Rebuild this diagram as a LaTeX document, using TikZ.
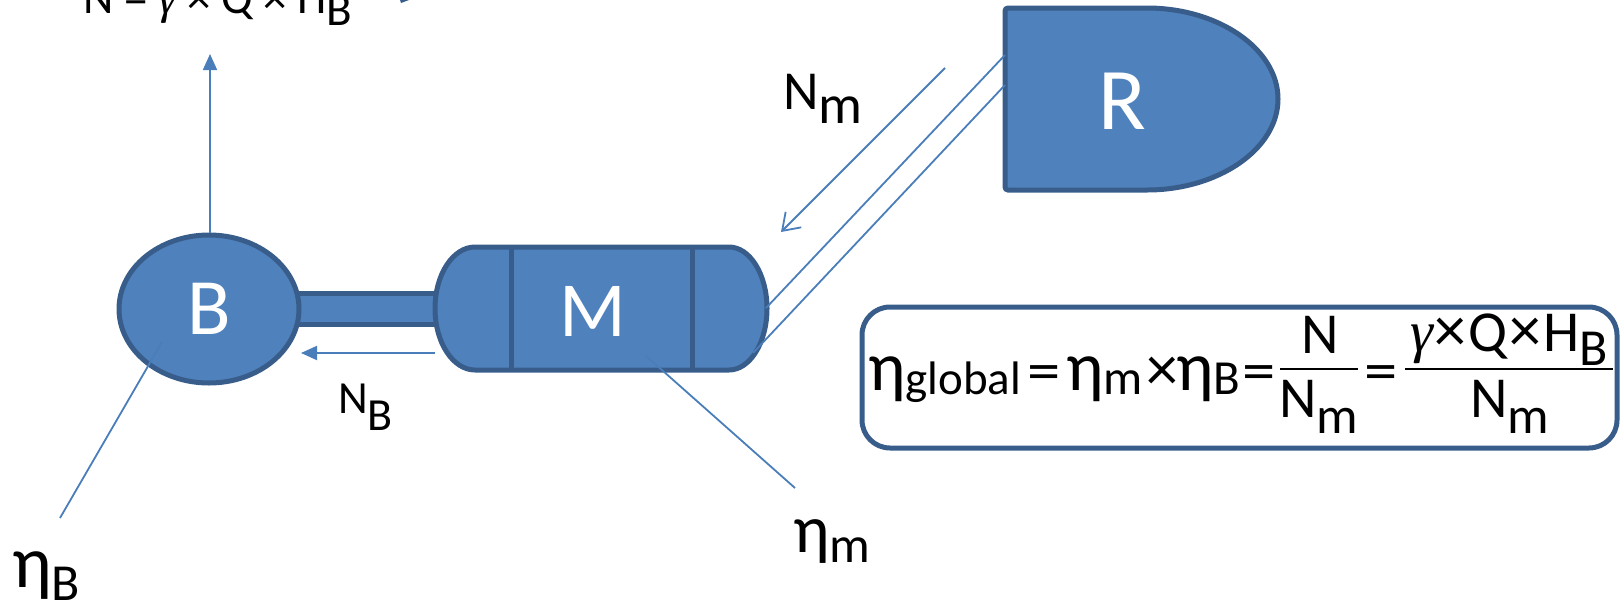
\documentclass[tikz,border=0pt]{standalone}
\usepackage{fontspec}
\setmainfont{Carlito}
\newfontfamily\gfont{Liberation Serif}
\usetikzlibrary{arrows.meta,shapes.geometric}
\definecolor{bfill}{HTML}{4F81BD}
\definecolor{bdark}{HTML}{385D8A}
\definecolor{bline}{HTML}{4A7EBB}
\newcommand{\bigeta}[1][1.2]{\scalebox{#1}{η}}
\newcommand{\lsub}[2]{\raisebox{-#1}{#2}}
\newcommand{\fsub}[2]{\raisebox{-#1}{\fontsize{52}{56}\selectfont #2}}
\newcommand{\esub}[2]{\raisebox{-#1}{\fontsize{49}{53}\selectfont #2}}
\newcommand{\gsub}[2]{\raisebox{-#1}{\fontsize{47}{52}\selectfont #2}}
\newcommand{\gam}{{\gfont\itshape γ}}
\newcommand{\weq}{\scalebox{1.15}[1]{=}}
\newcommand{\wx}{\scalebox{1.1}{×}}
\begin{document}
\begin{tikzpicture}[x=1pt,y=-1pt,
  solid/.style={fill=bfill,draw=bdark,line width=5pt},
  thin/.style={draw=bline,line width=1.8pt},
  tri/.style={-{Triangle[length=16pt,width=14pt]}},
  barb/.style={-{Straight Barb[length=16pt,width=22pt,line width=1.8pt]}},
  lbl/.style={inner sep=0pt,anchor=base west,text=black},
  ctr/.style={inner sep=0pt,anchor=base,text=black},
  wlbl/.style={inner sep=0pt,text=white},
  fs47/.style={font=\fontsize{47}{52}\selectfont},
  fsf/.style={font=\fontsize{58}{62}\selectfont}]
\useasboundingbox (0,0) rectangle (1623,606);
% shaft
\draw[solid] (285,293) rectangle (445,324);
% B
\node[ellipse,solid,minimum width=180pt,minimum height=148pt,inner sep=0pt,
      text=white,font=\fontsize{80}{84}\selectfont] (B) at (209,309) {B};
% M
\draw[solid] (475,247) -- (729,247)
  arc[start angle=-90,end angle=90,x radius=38,y radius=61.5]
  -- (475,370)
  arc[start angle=90,end angle=270,x radius=40,y radius=61.5] -- cycle;
\draw[draw=bdark,line width=5pt] (511,247) -- (511,370);
\draw[draw=bdark,line width=5pt] (692,247) -- (692,370);
\node[wlbl,font=\fontsize{78}{82}\selectfont] (M) at (593,311) {M};
% R
\draw[solid,rounded corners=3pt] (1005,8) -- (1144,8)
  arc[start angle=-90,end angle=90,x radius=134,y radius=91]
  -- (1005,190) -- cycle;
\node[wlbl,font=\fontsize{88}{92}\selectfont] (R) at (1122,101) {R};
% coordinates
\coordinate (Rp1) at (1005,55);
\coordinate (Rp2) at (1005,85);
\coordinate (Mp1) at (766,308);
\coordinate (Mp2) at (753,353);
\coordinate (NmS) at (945,68);
\coordinate (NmE) at (781,232);
\coordinate (NBs) at (435,353);
\coordinate (NBe) at (301,353);
\coordinate (Ntip) at (210,54);
\coordinate (eBs) at (162,342);
\coordinate (eBe) at (60,518);
\coordinate (eMs) at (645,355);
\coordinate (eMe) at (795,488);
% connectors
\draw[thin] (Rp1) -- (Mp1);
\draw[thin] (Rp2) -- (Mp2);
\draw[thin,barb] (NmS) -- (NmE);
\draw[thin,tri,fill=bline] (NBs) -- (NBe);
\draw[thin,tri,fill=bline] (B.north -| Ntip) -- (Ntip);
\draw[thin] (eBs) -- (eBe);
\draw[thin] (eMs) -- (eMe);
% tiny cut fragment at top
\fill[bdark] (400,0) -- (409,0) -- (401,3) -- cycle;
% labels
\node[lbl,fs47] (Ntop) at (83,13) {N = \gam\ × Q × H\lsub{12pt}{B}};
\node[lbl,font=\fontsize{55}{60}\selectfont] (Nm) at (783,109) {N\lsub{14pt}{m}};
\node[lbl,font=\fontsize{46}{50}\selectfont] (NB) at (338,413) {N\lsub{17pt}{B}};
\node[lbl,font=\fontsize{52}{56}\selectfont] (etaB) at (12,587) {\bigeta[1.42]\lsub{13pt}{B}};
\node[lbl,font=\fontsize{51}{55}\selectfont] (etaM) at (793,552) {\bigeta[1.33]\lsub{10pt}{m}};
% formula box
\draw[draw=bdark,line width=5pt,rounded corners=28pt] (862,307) rectangle (1617,448);
\node[lbl,fsf] (f1) at (868,390) {\bigeta\gsub{4pt}{global}};
\node[ctr,fsf] (eq1) at (1044,390) {\weq};
\node[lbl,fsf] (f2) at (1066,390) {\bigeta\esub{4pt}{m}};
\node[ctr,fsf] (x1) at (1162,390) {\wx};
\node[lbl,fsf] (f3) at (1176,390) {\bigeta\esub{4pt}{B}};
\node[ctr,fsf] (eq2) at (1259,390) {\weq};
\coordinate (b1l) at (1280,369);
\coordinate (b1r) at (1358,369);
\draw[line width=2.5pt] (b1l) -- (b1r);
\node[ctr,fsf] (n1) at (1320,353) {N};
\node[ctr,fsf] (d1) at (1319,417) {N\fsub{16pt}{m}};
\node[ctr,fsf] (eq3) at (1381,390) {\weq};
\coordinate (b2l) at (1405,369);
\coordinate (b2r) at (1613,369);
\draw[line width=2.5pt] (b2l) -- (b2r);
\node[ctr,fsf] (n2) at (1509,351) {\gam\hspace{2pt}\wx\hspace{2pt}Q\hspace{2pt}\wx\hspace{2pt}H\fsub{14pt}{B}};
\node[ctr,fsf] (d2) at (1510,417) {N\fsub{16pt}{m}};
\end{tikzpicture}
\end{document}
